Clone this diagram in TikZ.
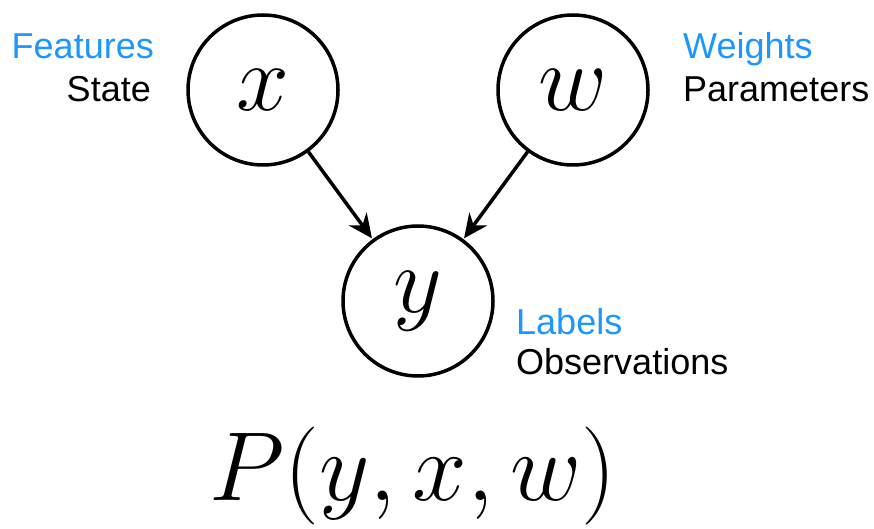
\documentclass[tikz,border=0pt]{standalone}
\usepackage{fix-cm}
\usepackage{fontspec}
\setsansfont{Liberation Sans}
\usetikzlibrary{arrows.meta}
\definecolor{lblblue}{RGB}{30,150,255}
\tikzset{
  var/.style={circle, draw=black, line width=3.5pt, minimum size=150pt, inner sep=0pt, font=\fontsize{95}{95}\selectfont},
  conn/.style={line width=3.5pt, -{Stealth[length=24pt,width=22pt]}, shorten >=1pt},
  lbl/.style={font=\sffamily\fontsize{36}{36}\selectfont, inner sep=0pt},
}
\begin{document}
\begin{tikzpicture}[x=1pt,y=-1pt]
\useasboundingbox (0,0) rectangle (874,529);
\node[var] (x) at (263,90) {$x$};
\node[var] (w) at (573,90) {$w$};
\node[var] (y) at (418,301) {$y$};
\draw[conn] (x) -- (y);
\draw[conn] (w) -- (y);
\node[lbl, text=lblblue, anchor=base east] (feat) at (154,59) {Features};
\node[lbl, anchor=base east] (state) at (151,102) {State};
\node[lbl, text=lblblue, anchor=base west] (wts) at (683,59) {Weights};
\node[lbl, anchor=base west] (par) at (683,102) {Parameters};
\node[lbl, text=lblblue, anchor=base west] (lab) at (516,334) {Labels};
\node[lbl, anchor=base west] (obs) at (516,374) {Observations};
\node[inner sep=0pt, anchor=base, font=\fontsize{98}{98}\selectfont] (eq) at (413,500) {$P(y,x,w)$};
\end{tikzpicture}
\end{document}
